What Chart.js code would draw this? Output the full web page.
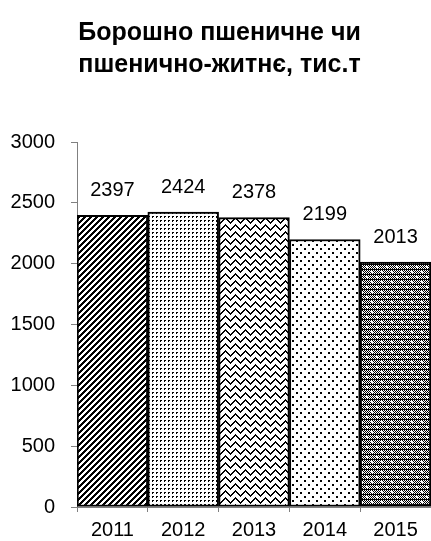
<!DOCTYPE html>
<html>
<head>
<meta charset="utf-8">
<script src="https://cdn.jsdelivr.net/npm/chart.js@4"></script>
<style>
  html, body { margin: 0; padding: 0; background: #fff; }
  #wrap { width: 431px; height: 541px; }
</style>
</head>
<body>
<div id="wrap"><canvas id="chart" width="431" height="541"></canvas></div>
<script>
// data
const titleLines = ['Борошно пшеничне чи', 'пшенично-житнє, тис.т'];
const years = ['2011', '2012', '2013', '2014', '2015'];
const flourValues = [2397, 2424, 2378, 2199, 2013];
const yTicks = [0, 500, 1000, 1500, 2000, 2500, 3000];

const fontFamily = '"Liberation Sans", Arial, sans-serif';

// builds a repeating fill from a little pixel test
function makePattern(w, h, isBlack) {
    const c = document.createElement('canvas');
    c.width = w;
    c.height = h;
    const g = c.getContext('2d');
    g.fillStyle = '#fff';
    g.fillRect(0, 0, w, h);
    g.fillStyle = '#000';
    for (let y = 0; y < h; y++) {
        for (let x = 0; x < w; x++) {
            if (isBlack(x, y)) g.fillRect(x, y, 1, 1);
        }
    }
    return document.getElementById('chart').getContext('2d').createPattern(c, 'repeat');
}

const fills = [
    // diagonal stripes
    makePattern(6, 6, (x, y) => ((x + y) % 6) < 3),
    // small dot grid
    makePattern(4, 4, (x, y) => x < 2 && y < 2 && !(x === 1 && y === 1)),
    // zigzag weave
    makePattern(10, 7, (x, y) => {
        const t = Math.abs((x % 10) - 5);
        const d = ((y - t) % 7 + 7) % 7;
        return d === 0 || d === 1;
    }),
    // sparse dots
    makePattern(8, 8, (x, y) => (x < 2 && y < 2) || (x >= 4 && x < 6 && y >= 4 && y < 6)),
    // dense checker with white spots
    makePattern(10, 10, (x, y) => {
        const spot = (x >= 1 && x < 3 && y >= 1 && y < 3) || (x >= 6 && x < 8 && y >= 6 && y < 8);
        if (spot) return false;
        return (x + y) % 2 === 0 || (y % 5 === 4);
    })
];

// value labels above each bar
const barValueLabels = {
    id: 'barValueLabels',
    afterDatasetsDraw(chart) {
        const ctx = chart.ctx;
        const meta = chart.getDatasetMeta(0);
        ctx.save();
        ctx.font = '20px ' + fontFamily;
        ctx.fillStyle = '#000';
        ctx.textAlign = 'center';
        ctx.textBaseline = 'middle';
        meta.data.forEach((bar, i) => {
            ctx.fillText(String(flourValues[i]), bar.x, bar.y - 25);
        });
        ctx.restore();
    }
};

new Chart(document.getElementById('chart'), {
    type: 'bar',
    data: {
        labels: years,
        datasets: [{
            data: flourValues,
            backgroundColor: fills,
            borderColor: '#000',
            borderWidth: 2,
            borderSkipped: false,
            barPercentage: 1,
            categoryPercentage: 1
        }]
    },
    options: {
        responsive: false,
        animation: false,
        layout: { padding: { left: 8, right: 0, top: 0, bottom: -7 } },
        plugins: {
            legend: { display: false },
            tooltip: { enabled: false },
            title: {
                display: true,
                text: titleLines,
                color: '#000',
                font: { family: fontFamily, size: 25, weight: 'bold', lineHeight: 1.28 },
                padding: { top: 17, bottom: 61 }
            }
        },
        scales: {
            x: {
                grid: { drawOnChartArea: false, drawTicks: true, tickLength: 5, color: '#808080' },
                border: { display: true, color: '#808080', width: 1 },
                ticks: {
                    color: '#000',
                    padding: 6,
                    font: { family: fontFamily, size: 20 }
                }
            },
            y: {
                min: 0,
                max: 3000,
                afterBuildTicks(scale) {
                    scale.ticks = yTicks.map(v => ({ value: v }));
                },
                // fixed axis width so the axis line sits where the original has it
                afterFit(scale) {
                    scale.width = 69;
                },
                grid: { drawOnChartArea: false, drawTicks: true, tickLength: 6, color: '#808080' },
                border: { display: true, color: '#808080', width: 1 },
                ticks: {
                    color: '#000',
                    padding: 16,
                    font: { family: fontFamily, size: 20 },
                    callback: v => String(v)
                }
            }
        }
    },
    plugins: [barValueLabels]
});
</script>
</body>
</html>
